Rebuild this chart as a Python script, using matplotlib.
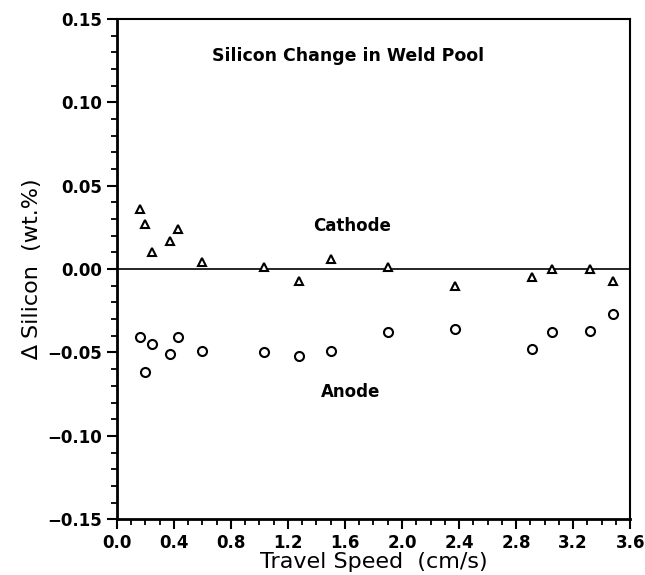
import matplotlib.pyplot as plt
from matplotlib.ticker import MultipleLocator

# travel speed (cm/s) and silicon change (wt.%)
cathode_x = [0.16, 0.20, 0.25, 0.37, 0.43, 0.60, 1.03, 1.28, 1.50, 1.90, 2.37, 2.91, 3.05, 3.32, 3.48]
cathode_y = [0.036, 0.027, 0.010, 0.017, 0.024, 0.004, 0.001, -0.007, 0.006, 0.001, -0.010, -0.005, 0.000, 0.000, -0.007]

anode_x = [0.16, 0.20, 0.25, 0.37, 0.43, 0.60, 1.03, 1.28, 1.50, 1.90, 2.37, 2.91, 3.05, 3.32, 3.48]
anode_y = [-0.041, -0.062, -0.045, -0.051, -0.041, -0.049, -0.050, -0.052, -0.049, -0.038, -0.036, -0.048, -0.038, -0.037, -0.027]

fig = plt.figure(figsize=(6.45, 5.75), dpi=100)
ax = fig.add_axes([0.181, 0.097, 0.796, 0.870])

ax.axhline(0, color="black", linewidth=1.2)
ax.plot(cathode_x, cathode_y, linestyle="none", marker="^", markersize=5.5,
        markerfacecolor="white", markeredgecolor="black", markeredgewidth=1.5)
ax.plot(anode_x, anode_y, linestyle="none", marker="o", markersize=6.5,
        markerfacecolor="white", markeredgecolor="black", markeredgewidth=1.5)

ax.text(1.62, 0.128, "Silicon Change in Weld Pool", ha="center", va="center",
        fontsize=12.5, fontweight="bold")
ax.text(1.65, 0.026, "Cathode", ha="center", va="center", fontsize=12, fontweight="bold")
ax.text(1.64, -0.074, "Anode", ha="center", va="center", fontsize=12, fontweight="bold")

ax.set_xlim(0, 3.6)
ax.set_ylim(-0.15, 0.15)
ax.xaxis.set_major_locator(MultipleLocator(0.4))
ax.xaxis.set_minor_locator(MultipleLocator(0.1))
ax.yaxis.set_major_locator(MultipleLocator(0.05))
ax.yaxis.set_minor_locator(MultipleLocator(0.01))
ax.xaxis.set_major_formatter(lambda v, p: f"{v:.1f}")
ax.yaxis.set_major_formatter(lambda v, p: f"{v:.2f}".replace("-", "\u2212"))

ax.tick_params(which="major", direction="out", length=7, width=1.5, labelsize=12)
ax.tick_params(which="minor", direction="out", length=4, width=1.3)
for lab in ax.get_xticklabels() + ax.get_yticklabels():
    lab.set_fontweight("bold")
for side in ["left", "bottom"]:
    ax.spines[side].set_linewidth(2)
for side in ["top", "right"]:
    ax.spines[side].set_linewidth(1.5)

ax.set_xlabel("Travel Speed  (cm/s)", fontsize=16, labelpad=0)
ax.set_ylabel("\u2206 Silicon  (wt.%)", fontsize=16, labelpad=4)

fig.savefig("out.png", dpi=100)
